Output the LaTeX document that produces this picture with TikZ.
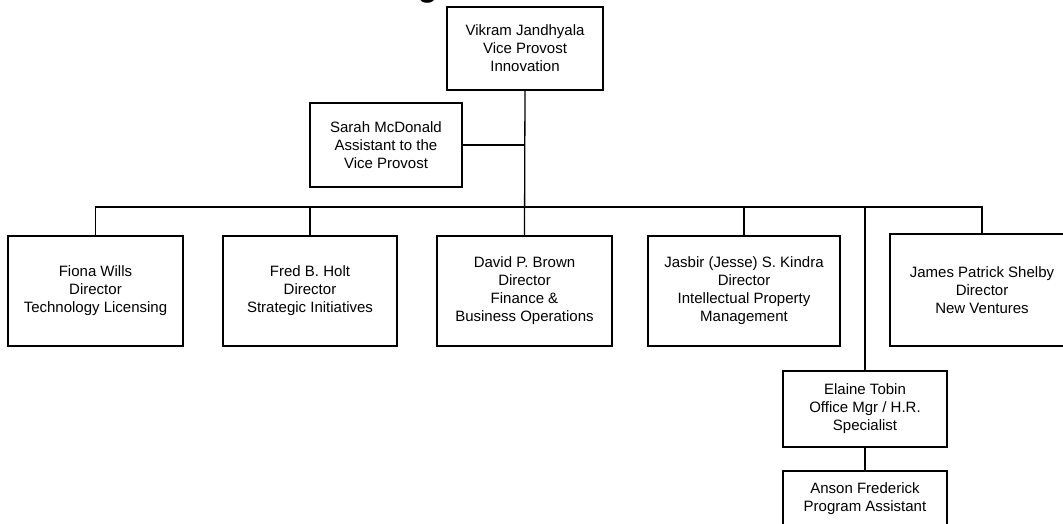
\documentclass[tikz,border=0pt]{standalone}
\usepackage{fontspec}
\setmainfont{Liberation Sans}
\begin{document}
\begin{tikzpicture}[x=1pt,y=-1pt,
  person/.style={draw=black,line width=1.3pt,rectangle,inner sep=0pt,align=center,
    font=\fontsize{15}{18}\selectfont},
  link/.style={draw=black,line width=1.3pt}]
\useasboundingbox (0,0) rectangle (1063,524);
\clip (0,0) rectangle (1063,524);
\fill[white] (0,0) rectangle (1063,524);
\node[anchor=base,font=\bfseries\fontsize{32}{36}\selectfont] (title) at (538,-3) {Organizational Chart};
\node[person,minimum width=156pt,minimum height=83pt] (vik) at (525,48.5) {Vikram Jandhyala\\Vice Provost\\Innovation};
\node[person,minimum width=152pt,minimum height=84pt] (sar) at (386,145) {Sarah McDonald\\Assistant to the\\Vice Provost};
\node[person,minimum width=175pt,minimum height=110pt] (fio) at (95.5,291) {Fiona Wills\\Director\\Technology Licensing};
\node[person,minimum width=174pt,minimum height=110pt] (fre) at (310,291) {Fred B. Holt\\Director\\Strategic Initiatives};
\node[person,minimum width=175pt,minimum height=110pt] (dav) at (524.5,291) {David P. Brown\\Director\\Finance \&\\Business Operations};
\node[person,minimum width=192pt,minimum height=110pt] (jas) at (744,291) {Jasbir (Jesse) S. Kindra\\Director\\Intellectual Property\\Management};
\node[person,minimum width=184pt,minimum height=112pt] (jam) at (982,290) {James Patrick Shelby\\Director\\New Ventures};
\node[person,minimum width=164pt,minimum height=76pt] (ela) at (865,409) {Elaine Tobin\\Office Mgr / H.R.\\Specialist};
\node[person,minimum width=164pt,minimum height=76pt] (ans) at (865,509) {Anson Frederick\\Program Assistant\\\strut};
\coordinate (bus) at (525,207);
\draw[link] (vik.south) -- (dav.north);
\draw[link] (sar.east) -- (sar.east -| vik.south);
\draw[link] (fio.north) |- (bus) -| (jam.north);
\draw[link] (fre.north) -- (fre.north |- bus);
\draw[link] (jas.north) -- (jas.north |- bus);
\draw[link] (ela.north) -- (ela.north |- bus);
\draw[link] (ela.south) -- (ans.north);
\end{tikzpicture}
\end{document}
